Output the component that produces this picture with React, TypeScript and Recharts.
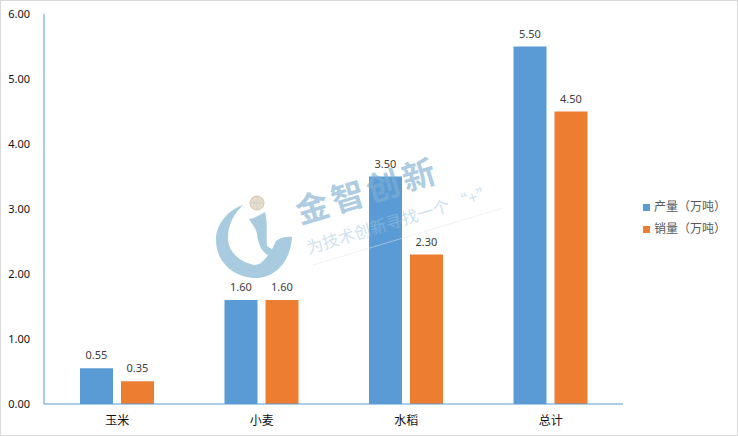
import { BarChart, Bar, XAxis, YAxis, Legend, LabelList } from "recharts";

const categories = ["玉米", "小麦", "水稻", "总计"];
const output = [0.55, 1.6, 3.5, 5.5];
const sales = [0.35, 1.6, 2.3, 4.5];
const yTicks = [0, 1, 2, 3, 4, 5, 6];

const chartData = categories.map((name, i) => ({ name, output: output[i], sales: sales[i] }));
const fmt = (v: any) => Number(v).toFixed(2);
const cjk = '"Noto Sans CJK SC", "Noto Sans", sans-serif';
const latin = '"Noto Sans", sans-serif';

function Watermark() {
  return (
    <svg
      width={738}
      height={436}
      style={{ position: "absolute", left: 0, top: 0, pointerEvents: "none" }}
    >
      <path
        d="M243 205 C228 210 216 224 216 240 C216 262 234 278 256 278 C276 278 291 260 292 237 C286 236 280 238 276 241 C274 245 273 249 268 255 C264 261 260 265 254 265 C240 262 228 252 228 238 C228 224 234 214 243 205 Z"
        fill="#a9cbe0"
      />
      <path
        d="M249 219 C255 218 260 215 265 212 C268 224 266 236 267 246 L273 250 L268 255 C262 252 258 244 257 234 C256 228 252 224 249 219 Z"
        fill="#a9cbe0"
      />
      <circle cx={257} cy={203} r={7} fill="#eadcc6" stroke="#d6c4b0" />
      <path d="M250 203 H264 M257 196 V210 M252 198 Q257 203 252 208 M262 198 Q257 203 262 208" fill="none" stroke="#c9d3d8" strokeWidth={0.7} />
      <g transform="rotate(-17 367 190)" fontFamily={cjk} fill="#7fb0d2" fillOpacity={0.65}>
        <text x={367} y={203} textAnchor="middle" fontSize={33} fontWeight={700} letterSpacing={4}>
          金智创新
        </text>
      </g>
      <g transform="rotate(-17 400 220)" fontFamily={cjk} fill="#9cc4de" fillOpacity={0.5}>
        <text x={400} y={226} textAnchor="middle" fontSize={16.5}>
          为技术创新寻找一个 “+”
        </text>
      </g>
      <line x1={313} y1={265} x2={503} y2={208} stroke="#dfe8ef" strokeOpacity={0.5} />
    </svg>
  );
}

export default function App() {
  return (
    <div
      style={{
        position: "absolute",
        left: 0,
        top: 0,
        width: 738,
        height: 436,
        background: "#fff",
        boxSizing: "border-box",
        border: "1px solid #d9d9d9",
        fontFamily: cjk,
      }}
    >
      <div style={{ position: "absolute", left: -1, top: -1 }}>
        <BarChart
          width={738}
          height={436}
          data={chartData}
          barSize={33}
          barGap={8}
          margin={{ top: 14, right: 20, bottom: 2, left: 0 }}
        >
          <XAxis
            dataKey="name"
            padding={{ left: 1, right: 0 }}
            axisLine={{ stroke: "#5b9bd5" }}
            tickLine={false}
            tick={{ fill: "#111", fontSize: 12, fontFamily: cjk }}
            tickMargin={6}
          />
          <YAxis
            width={44}
            domain={[0, 6]}
            ticks={yTicks}
            tickFormatter={fmt}
            axisLine={{ stroke: "#5b9bd5" }}
            tickLine={false}
            tick={{ fill: "#111", fontSize: 11, fontFamily: latin }}
            tickMargin={8}
          />
          <Legend
            layout="vertical"
            align="right"
            verticalAlign="middle"
            iconType="square"
            iconSize={7}
            wrapperStyle={{ left: 643, top: 195, width: 95, fontSize: 12, lineHeight: "22px", color: "#595959" }}
            formatter={(value: any) => <span style={{ color: "#595959" }}>{value}</span>}
          />
          <Bar dataKey="output" name="产量（万吨）" fill="#5b9bd5" isAnimationActive={false}>
            <LabelList
              dataKey="output"
              position="top"
              formatter={fmt}
              offset={9}
              style={{ fill: "#404040", fontSize: 11, fontFamily: latin }}
            />
          </Bar>
          <Bar dataKey="sales" name="销量（万吨）" fill="#ed7d31" isAnimationActive={false}>
            <LabelList
              dataKey="sales"
              position="top"
              formatter={fmt}
              offset={9}
              style={{ fill: "#404040", fontSize: 11, fontFamily: latin }}
            />
          </Bar>
        </BarChart>
      </div>
      <div style={{ position: "absolute", left: -1, top: -1 }}>
        <Watermark />
      </div>
    </div>
  );
}
